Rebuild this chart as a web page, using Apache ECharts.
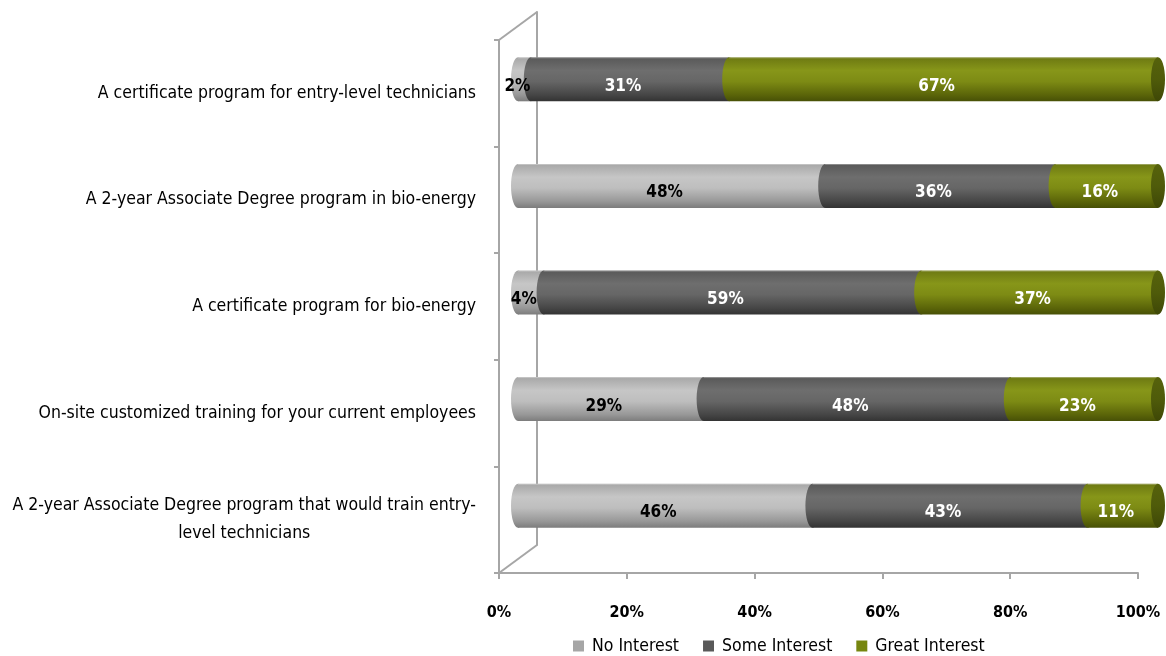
<!DOCTYPE html>
<html>
<head>
<meta charset="utf-8">
<script src="https://cdn.jsdelivr.net/npm/echarts@6/dist/echarts.min.js"></script>
<style>
  html, body { margin: 0; padding: 0; background: #ffffff; }
  #chart { width: 1166px; height: 656px; }
</style>
</head>
<body>
<div id="chart"></div>
<script>
// ---- data ----
const categories = [
  'A certificate program for entry-level technicians',
  'A 2-year Associate Degree program in bio-energy',
  'A certificate program for bio-energy',
  'On-site customized training for your current employees',
  'A 2-year Associate Degree program that would train entry-\nlevel technicians'
];
const seriesNames = ['No Interest', 'Some Interest', 'Great Interest'];
const noInterest    = [2, 48, 4, 29, 46];
const someInterest  = [31, 36, 59, 48, 43];
const greatInterest = [67, 16, 37, 23, 11];
const xTickLabels = ['0%', '20%', '40%', '60%', '80%', '100%'];

// ---- layout & style ----
const FONT = '"Liberation Sans Narrow", "Arial Narrow", "DejaVu Sans Condensed", sans-serif';
const AXIS_COLOR = '#a6a6a6';
const FRONT = { left: 499, top: 40, width: 639, height: 533 };
const DEPTH = { dx: 38, dy: -28 };          // offset of the back wall
const BAR = { left: FRONT.left + DEPTH.dx / 2, top: FRONT.top + DEPTH.dy / 2, width: 640, height: 533 };
const BACK = { left: FRONT.left + DEPTH.dx, top: FRONT.top + DEPTH.dy, width: 639, height: 533 };
const RX = 7;            // horizontal radius of the cylinder ends
const BAR_RATIO = 0.413; // cylinder diameter relative to the category band

const STYLES = [
  { legend: '#a6a6a6', label: '#000000',
    stops: [[0, '#a6a6a6'], [0.3, '#c6c6c6'], [0.55, '#bebebe'], [0.85, '#989898'], [1, '#7c7c7c']] },
  { legend: '#595959', label: '#ffffff',
    stops: [[0, '#585858'], [0.3, '#6e6e6e'], [0.55, '#666666'], [0.85, '#464646'], [1, '#333333']] },
  { legend: '#76860f', label: '#ffffff',
    stops: [[0, '#6c7812'], [0.3, '#879619'], [0.55, '#7d8b14'], [0.85, '#5b6509'], [1, '#475006']] }
];
const CAP_STOPS = [[0, '#56620c'], [0.5, '#4f5b0a'], [1, '#3e4706']];

const values = [noInterest, someInterest, greatInterest];

// stacked segments: [category, start, end, value]
function segments(k) {
  return categories.map(function (_, i) {
    let start = 0;
    for (let j = 0; j < k; j++) start += values[j][i];
    return [i, start, start + values[k][i], values[k][i]];
  });
}

function grad(stops) {
  return new echarts.graphic.LinearGradient(0, 0, 0, 1,
    stops.map(function (s) { return { offset: s[0], color: s[1] }; }));
}

function makeRenderer(k) {
  const st = STYLES[k];
  const isLast = k === values.length - 1;
  return function (params, api) {
    const cat = api.value(0);
    const a = api.coord([api.value(1), cat]);
    const b = api.coord([api.value(2), cat]);
    const h = api.size([0, 1])[1] * BAR_RATIO;
    const cy = a[1];
    const top = cy - h / 2;
    const fill = grad(st.stops);
    const children = [
      { type: 'ellipse', shape: { cx: a[0], cy: cy, rx: RX, ry: h / 2 }, style: { fill: fill } },
      { type: 'rect', shape: { x: a[0], y: top, width: b[0] - a[0], height: h }, style: { fill: fill } },
      { type: 'line', shape: { x1: a[0], y1: top + 0.5, x2: b[0], y2: top + 0.5 },
        style: { stroke: 'rgba(255,255,255,0.35)', lineWidth: 1 } }
    ];
    if (isLast) {
      children.push({ type: 'ellipse', shape: { cx: b[0], cy: cy, rx: RX, ry: h / 2 },
        style: { fill: grad(CAP_STOPS) } });
    }
    children.push({
      type: 'text', z2: 50,
      style: {
        text: api.value(3) + '%',
        x: (a[0] + b[0]) / 2 - 7, y: cy + 7,
        fill: st.label, font: 'bold 17px ' + FONT,
        align: 'center', verticalAlign: 'middle',
        textAlign: 'center', textVerticalAlign: 'middle'
      }
    });
    return { type: 'group', children: children };
  };
}

const chart = echarts.init(document.getElementById('chart'), null, { renderer: 'canvas' });

function gridOf(box) {
  return Object.assign({ containLabel: false, outerBoundsMode: 'none' }, box);
}

const option = {
  animation: false,
  backgroundColor: '#ffffff',
  grid: [gridOf(FRONT), gridOf(BAR), gridOf(BACK)],
  xAxis: [
    {
      gridIndex: 0, type: 'value', min: 0, max: 100, interval: 20,
      axisLine: { show: true, lineStyle: { color: AXIS_COLOR, width: 2 } },
      axisTick: { show: true, length: 6, lineStyle: { color: AXIS_COLOR, width: 2 } },
      splitLine: { show: false },
      axisLabel: {
        margin: 32, color: '#000', fontFamily: FONT, fontWeight: 'bold', fontSize: 16,
        formatter: function (v) { return xTickLabels[Math.round(v / 20)]; }
      }
    },
    { gridIndex: 1, type: 'value', min: 0, max: 100, show: false },
    { gridIndex: 2, type: 'value', min: 0, max: 100, show: false }
  ],
  yAxis: [
    {
      gridIndex: 0, type: 'category', inverse: true, data: categories,
      axisLine: { show: true, lineStyle: { color: AXIS_COLOR, width: 2 } },
      axisTick: { show: true, length: 5, lineStyle: { color: AXIS_COLOR, width: 2 } },
      axisLabel: {
        margin: 23, color: '#000', fontFamily: FONT, fontSize: 17.5, lineHeight: 28,
        formatter: function (v) {
          return v.split('\n').map(function (line) { return '{c|' + line + '}'; }).join('\n');
        },
        rich: { c: { align: 'center', fontFamily: FONT, fontSize: 17.5, lineHeight: 28, color: '#000' } }
      }
    },
    { gridIndex: 1, type: 'category', inverse: true, data: categories, show: false },
    {
      gridIndex: 2, type: 'category', inverse: true, data: categories,
      axisLine: { show: true, lineStyle: { color: AXIS_COLOR, width: 2 } },
      axisTick: { show: false }, axisLabel: { show: false }
    }
  ],
  legend: {
    data: seriesNames,
    left: 568, top: 632,
    icon: 'rect', itemWidth: 11, itemHeight: 11, itemGap: 24,
    textStyle: { fontFamily: FONT, fontSize: 17.5, color: '#000', padding: [0, 0, 0, 3] }
  },
  graphic: [
    { type: 'line', silent: true,
      shape: { x1: FRONT.left, y1: FRONT.top, x2: BACK.left, y2: BACK.top },
      style: { stroke: AXIS_COLOR, lineWidth: 2 } },
    { type: 'line', silent: true,
      shape: { x1: FRONT.left, y1: FRONT.top + FRONT.height, x2: BACK.left, y2: BACK.top + BACK.height },
      style: { stroke: AXIS_COLOR, lineWidth: 2 } }
  ],
  series: seriesNames.map(function (name, k) {
    return {
      name: name, type: 'custom', coordinateSystem: 'cartesian2d',
      xAxisIndex: 1, yAxisIndex: 1,
      itemStyle: { color: STYLES[k].legend },
      encode: { x: [1, 2], y: 0 },
      renderItem: makeRenderer(k),
      data: segments(k)
    };
  })
};

chart.setOption(option);
</script>
</body>
</html>
